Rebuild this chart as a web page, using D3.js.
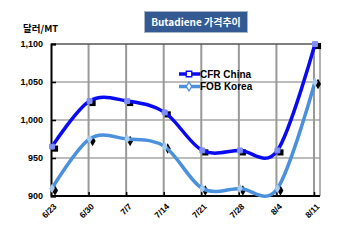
<!DOCTYPE html>
<meta charset='utf-8'>
<html>
<head>
    <script src='https://d3js.org/d3.v7.min.js'></script>
    <style>
        html, body { margin: 0; padding: 0; background: #fff; }
        svg { display: block; font-family: 'Liberation Sans', Arial, sans-serif; }
    </style>
</head>
<body>
<script>
    // data
    const dates = ['6/23', '6/30', '7/7', '7/14', '7/21', '7/28', '8/4', '8/11'];
    const cfrChina = [965, 1025, 1025, 1010, 960, 960, 960, 1100];
    const fobKorea = [910, 975, 975, 965, 910, 910, 910, 1050];
    const yTicks = [900, 950, 1000, 1050, 1100];

    const width = 350, height = 240;
    const plotLeft = 51, plotRight = 320, plotTop = 44, plotBottom = 196;

    const svg = d3.select('body').append('svg')
        .attr('width', width).attr('height', height);

    const x = d3.scalePoint().domain(dates).range([52, 315]);
    const y = d3.scaleLinear().domain([900, 1100]).range([plotBottom, plotTop]);

    // horizontal grid
    svg.append('g').selectAll('line')
        .data(yTicks.slice(1, -1)).enter().append('line')
        .attr('x1', plotLeft).attr('x2', plotRight)
        .attr('y1', d => y(d)).attr('y2', d => y(d))
        .style('stroke', '#a6a6a6').style('stroke-width', 1.5);

    // vertical grid
    svg.append('g').selectAll('line')
        .data(dates.slice(1)).enter().append('line')
        .attr('x1', d => x(d) - 1).attr('x2', d => x(d) - 1)
        .attr('y1', plotTop).attr('y2', plotBottom)
        .style('stroke', '#999').style('stroke-width', 2);

    // frame
    svg.append('line').attr('x1', plotLeft).attr('x2', plotRight).attr('y1', plotTop).attr('y2', plotTop)
        .style('stroke', '#555').style('stroke-width', 1.5);
    svg.append('line').attr('x1', plotRight).attr('x2', plotRight).attr('y1', plotTop).attr('y2', plotBottom)
        .style('stroke', '#999').style('stroke-width', 1.5);

    // y axis
    const yAxis = svg.append('g')
        .attr('transform', 'translate(' + plotLeft + ',0)')
        .call(d3.axisRight(y).tickValues(yTicks).tickSize(5).tickFormat(''));
    yAxis.select('.domain').style('stroke', '#000').style('stroke-width', 2);
    yAxis.selectAll('.tick line').style('stroke', '#000').style('stroke-width', 1.5);

    svg.append('g').selectAll('text')
        .data(yTicks).enter().append('text')
        .attr('x', 43).attr('y', d => y(d)).attr('dy', '0.35em')
        .attr('text-anchor', 'end')
        .style('font-size', '9px').style('font-weight', 'bold')
        .text(d => d3.format(',')(d));

    // x axis
    const xAxis = svg.append('g')
        .attr('transform', 'translate(0,' + plotBottom + ')')
        .call(d3.axisTop(x).tickSize(4).tickFormat('').tickSizeOuter(0));
    xAxis.select('.domain').attr('d', 'M' + plotLeft + ',0H' + plotRight)
        .style('stroke', '#000').style('stroke-width', 2);
    xAxis.selectAll('.tick line').attr('transform', 'translate(-1,0)')
        .style('stroke', '#000').style('stroke-width', 1.5);

    svg.append('g').selectAll('text')
        .data(dates).enter().append('text')
        .attr('transform', d => 'translate(' + (x(d) + 3) + ',205) rotate(-45)')
        .attr('dy', '0.35em')
        .attr('text-anchor', 'end')
        .style('font-size', '8.5px').style('font-weight', 'bold')
        .text(d => d);

    // unit label
    svg.append('text')
        .attr('x', 23).attr('y', 32)
        .style('font-size', '9.5px').style('font-weight', 'bold')
        .style('font-family', "'Noto Sans CJK KR', sans-serif")
        .text('달러/MT');

    // title box
    svg.append('rect')
        .attr('x', 144.5).attr('y', 11.5).attr('width', 103).attr('height', 21)
        .style('fill', '#335a92').style('stroke', '#a8b4c8').style('stroke-width', 1);
    svg.append('text')
        .attr('x', 196).attr('y', 22).attr('dy', '0.35em')
        .attr('text-anchor', 'middle')
        .style('fill', '#fff').style('font-size', '10px').style('font-weight', 'bold')
        .style('font-family', "'Noto Sans CJK KR', sans-serif")
        .text('Butadiene 가격추이');

    const line = d3.line()
        .x((d, i) => x(dates[i]))
        .y(d => y(d))
        .curve(d3.curveCatmullRom.alpha(0));

    const series = [
        { name: 'CFR China', values: cfrChina, color: '#0a0af0', tint: '#7f8ff5', shape: d3.symbolSquare, size: 38 },
        { name: 'FOB Korea', values: fobKorea, color: '#4a90dc', tint: '#a9cbef', shape: d3.symbolDiamond, size: 32 }
    ];

    // marker shadows
    series.forEach(function (s) {
        svg.append('g').selectAll('path')
            .data(s.values).enter().append('path')
            .attr('d', d3.symbol().type(s.shape).size(s.size))
            .attr('transform', (d, i) => 'translate(' + (x(dates[i]) + 3) + ',' + (y(d) + 2) + ')')
            .style('fill', '#000');
    });

    series.forEach(function (s) {
        svg.append('path')
            .datum(s.values)
            .attr('d', line)
            .style('fill', 'none')
            .style('stroke', s.color)
            .style('stroke-width', 3.5);
        svg.append('g').selectAll('path')
            .data(s.values).enter().append('path')
            .attr('d', d3.symbol().type(s.shape).size(s.size - 14))
            .attr('transform', (d, i) => 'translate(' + x(dates[i]) + ',' + y(d) + ')')
            .style('fill', s.tint)
            .style('stroke', s.tint)
            .style('stroke-width', 1);
    });

    // legend
    const legend = svg.selectAll('g.legendEntry')
        .data(series).enter().append('g').attr('class', 'legendEntry')
        .attr('transform', (d, i) => 'translate(0,' + (74 + i * 12.5) + ')');
    legend.append('line')
        .attr('x1', 179).attr('x2', 200).attr('y1', 0).attr('y2', 0)
        .style('stroke', d => d.color).style('stroke-width', 3.5);
    legend.append('path')
        .attr('d', d => d3.symbol().type(d.shape).size(d.size - 8)())
        .attr('transform', 'translate(189,0)')
        .style('fill', '#fff')
        .style('stroke', d => d.color).style('stroke-width', 1.3);
    legend.append('text')
        .attr('x', 200).attr('y', 0).attr('dy', '0.36em')
        .style('font-size', '10px').style('font-weight', 'bold')
        .text(d => d.name);
</script>
</body>
</html>
